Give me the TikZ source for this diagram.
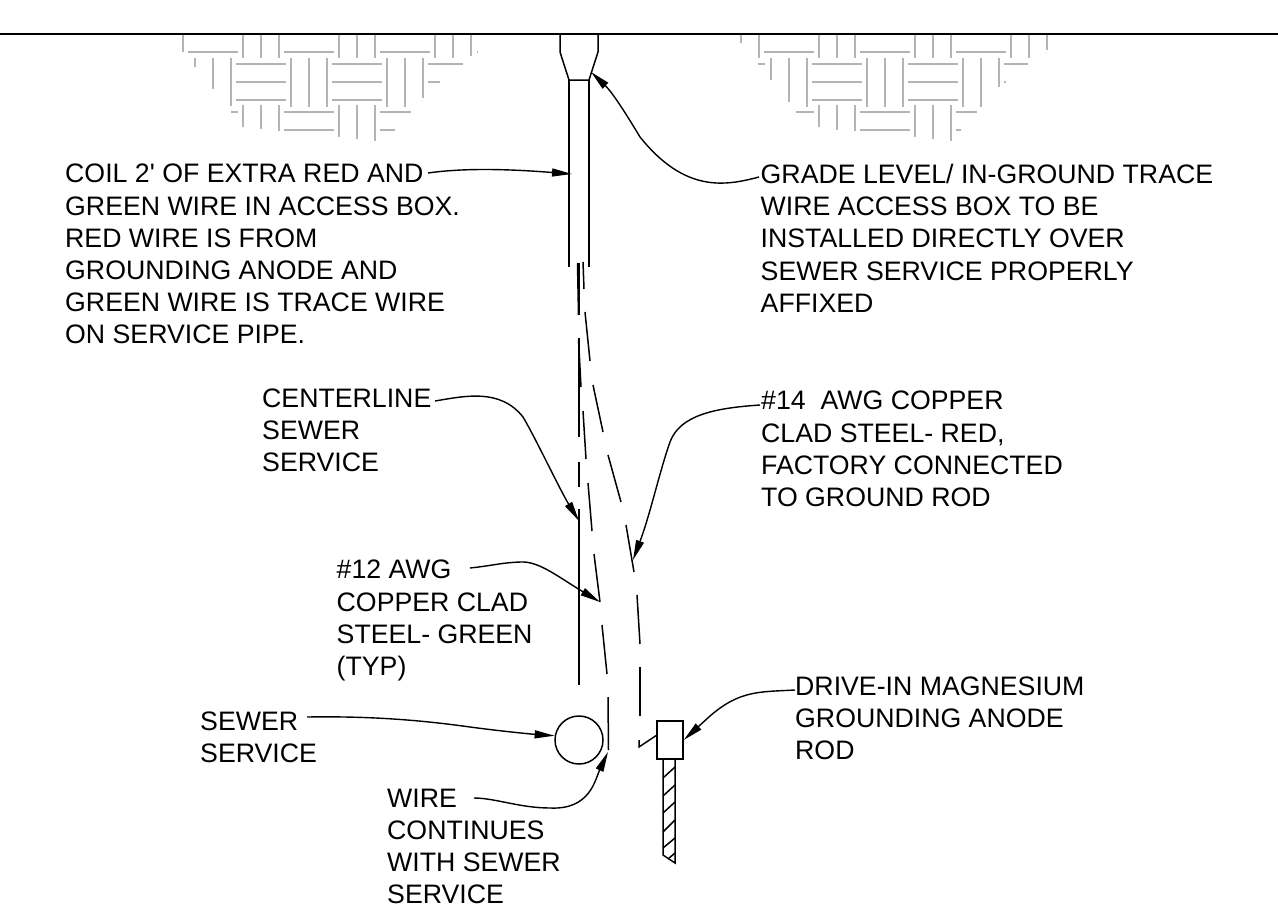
\documentclass[tikz,border=0pt]{standalone}
\usepackage{fontspec}
\setmainfont{Liberation Sans}
\usetikzlibrary{arrows.meta}
\definecolor{soil}{HTML}{B4B4B4}
\tikzset{
  lbl/.style={anchor=north west,inner sep=0pt,align=left,font=\fontsize{26.7}{32.2}\selectfont},
  wire/.style={line width=1.5pt,black},
  leader/.style={line width=1.4pt,black,-{Triangle[length=20pt,width=8pt]}},
  soilv/.style={line width=1.5pt,soil},
}
\begin{document}
\begin{tikzpicture}[x=1pt,y=-1pt]
\useasboundingbox (0,0) rectangle (1278,921);
% soil hatch
\foreach \x/\a/\b in {183/35/52,243/35/58,261/35/58,279/35/58,339/35/58,357/35/58,375/35/58,435/35/58,453/35/58,471/35/56,
  195/58/67,213/58/89,231/58/106,291/58/107,309/58/107,327/58/107,387/58/107,405/58/107,423/58/98,
  243/105/127,261/105/129,279/105/131,339/105/137,357/105/139,375/105/141,
  741/35/43,759/35/58,819/35/58,837/35/58,855/35/58,915/35/58,933/35/58,951/35/58,1011/35/58,1029/35/58,1047/35/50,
  771/58/80,789/58/102,807/58/107,867/58/107,885/58/107,903/58/107,963/58/107,981/58/107,999/58/87,
  819/105/127,837/105/130,855/105/131,915/105/137,933/105/139,951/105/141}
  \draw[soilv] (\x,\a) -- (\x,\b);
\foreach \y/\a/\b in {52/188/238,52/284/334,52/380/430,52/476.5/478,
  64/236/286,82/236/286,100/236/286,64/332/382,82/332/382,100/332/382,64/428/463,82/428/440,
  112/231/238,112/284/334,130/284/334,112/380/411,130/380/395,
  52/764/814,52/860/910,52/956/1006,
  64/758/765,64/812/862,82/812/862,100/812/862,64/908/958,82/908/958,100/908/958,64/1004/1028,82/1004/1006,
  112/796/814,112/860/910,130/860/910,112/956/977,130/956/961}
  \draw[soilv] (\a,\y) -- (\b,\y);
% ground line
\draw[line width=2pt] (0,34) -- (1278,34);
% access box and tube
\draw[wire] (560,34) -- (560,52) -- (569,80) -- (589,80) -- (598,52) -- (598,34);
\draw[wire] (569,80) -- (569,267);
\draw[wire] (589,80) -- (589,267);
% centerline
\foreach \a/\b in {263/315,338/437,462/487,509/685}
  \draw[wire] (579,\a) -- (579,\b);
% green wire (dashed run)
\draw[wire] (577.5,263) -- (578.5,315);
\draw[wire] (578.5,339) -- (581,387);
\draw[wire] (583,411) -- (586,459);
\draw[wire] (588,483) -- (592,531);
\draw[wire] (594,554) -- (600,602);
\draw[wire] (602,625) -- (607,674);
\draw[wire] (608,697) -- (608.5,750);
% red wire (dashed run)
\draw[wire] (583,262) -- (584,289);
\draw[wire] (585,312) -- (590,361);
\draw[wire] (593,385) -- (603,432);
\draw[wire] (608,455) -- (621,502);
\draw[wire] (626,525) -- (634,572);
\draw[wire] (637,595) -- (640,644);
\draw[wire] (640,667) -- (640,716);
% sewer service pipe
\node[circle,draw,line width=1.5pt,minimum size=48pt,inner sep=0pt] (pipe) at (579,740) {};
% anode
\node[rectangle,draw,line width=1.5pt,minimum width=26pt,minimum height=38pt,inner sep=0pt] (head) at (670,740) {};
\coordinate (redjoin) at (657,735);
\draw[wire] (639,740) -- (639,747) -- (redjoin);
\draw[wire] (663,759) -- (663,855) -- (675,863) -- (675,759);
\foreach \l/\r in {778/767,796/785,813/802,832/820,848/838}
  \draw[wire] (663,\l) -- (675,\r);
\draw[wire] (668,859) -- (675,853);
% labels
\node[lbl] (coil) at (65,164) {COIL 2\textquotesingle{} OF EXTRA RED AND\\GREEN WIRE IN ACCESS BOX.\\RED WIRE IS FROM\\GROUNDING ANODE AND\\GREEN WIRE IS TRACE WIRE\\ON SERVICE PIPE.};
\node[lbl] (grade) at (760.5,164) {GRADE LEVEL/ IN-GROUND TRACE\\WIRE ACCESS BOX TO BE\\INSTALLED DIRECTLY OVER\\SEWER SERVICE PROPERLY\\AFFIXED};
\node[lbl] (center) at (262,388.7) {CENTERLINE\\SEWER\\SERVICE};
\node[lbl] (awgfourteen) at (761,391) {\#14~~AWG COPPER\\CLAD STEEL- RED,\\FACTORY CONNECTED\\TO GROUND ROD};
\node[lbl] (awgtwelve) at (336.5,560) {\#12 AWG\\COPPER CLAD\\STEEL- GREEN\\(TYP)};
\node[lbl] (sewer) at (200,711.7) {SEWER\\SERVICE};
\node[lbl] (wirecont) at (387,788.7) {WIRE\\CONTINUES\\WITH SEWER\\SERVICE};
\node[lbl] (drive) at (795,676.7) {DRIVE-IN MAGNESIUM\\GROUNDING ANODE\\ROD};
% leader ends
\coordinate (scoil) at (428,173);
\coordinate (tcoil) at (572,174);
\coordinate (sgrade) at (759,177);
\coordinate (tgrade) at (591,72);
\coordinate (scenter) at (435,401);
\coordinate (tcenter) at (579,521);
\coordinate (sfourteen) at (760,405);
\coordinate (tfourteen) at (633,560);
\coordinate (stwelve) at (470,568);
\coordinate (ttwelve) at (600,602);
\coordinate (ssewer) at (307,717);
\coordinate (swire) at (474,798);
\coordinate (twire) at (608,752);
\coordinate (sdrive) at (795,690);
% leaders
\draw[leader] (scoil) .. controls (470,167) and (520,170) .. (tcoil);
\draw[leader] (sgrade) .. controls (725,186) and (685,193) .. (640,137) .. controls (625,112) and (612,92) .. (tgrade);
\draw[leader] (scenter) .. controls (465,396) and (500,388) .. (523,417) .. controls (535,437) and (560,490) .. (tcenter);
\draw[leader] (sfourteen) .. controls (715,408) and (680,415) .. (670,442) .. controls (660,470) and (650,515) .. (tfourteen);
\draw[leader] (stwelve) .. controls (490,566) and (505,562) .. (523,562) .. controls (540,562) and (560,578) .. (ttwelve);
\draw[leader] (ssewer) .. controls (370,716) and (420,720) .. (470,727) .. controls (500,731) and (530,734) .. (pipe.170);
\draw[leader] (swire) .. controls (495,798) and (520,808) .. (550,808) .. controls (590,810) and (595,780) .. (twire);
\draw[leader] (sdrive) .. controls (760,692) and (740,690) .. (710,716) -- (head.east);
\end{tikzpicture}
\end{document}
